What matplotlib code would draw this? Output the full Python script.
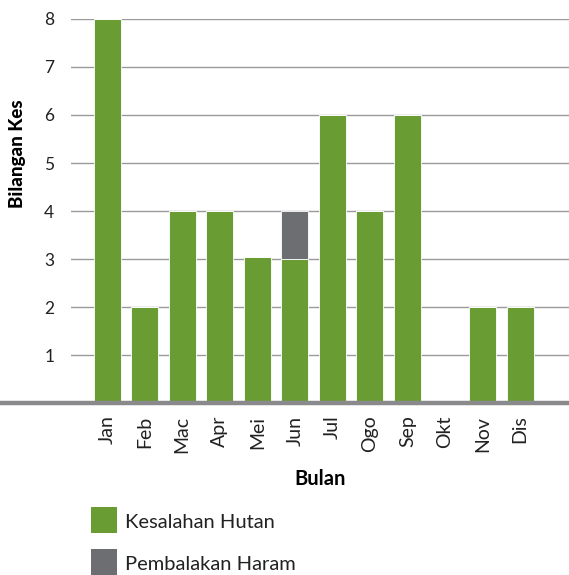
import numpy as np
import matplotlib.pyplot as plt
from matplotlib.patches import Rectangle
from matplotlib.lines import Line2D

# data
months = ["Jan", "Feb", "Mac", "Apr", "Mei", "Jun", "Jul", "Ogo", "Sep", "Okt", "Nov", "Dis"]
kesalahan = [8, 2, 4, 4, 3.05, 3, 6, 4, 6, 0, 2, 2]
pembalakan = [0, 0, 0, 0, 0, 1, 0, 0, 0, 0, 0, 0]

green = "#6a9c34"
grey = "#6d6e72"

plt.rcParams['font.family'] = ['Lato', 'DejaVu Sans']

fig = plt.figure(figsize=(5.69, 5.75), dpi=100)
ax = fig.add_axes([0.1248, 0.299, 0.8752, 0.668])

x = np.arange(len(months))
ax.bar(x, kesalahan, width=0.72, color=green, edgecolor="white", linewidth=0.6, zorder=3)
ax.bar(x, pembalakan, width=0.72, bottom=kesalahan, color=grey, edgecolor="white", linewidth=0.6, zorder=3)

ax.set_xlim(-0.96, 12.3)
ax.set_ylim(0, 8)
ax.set_yticks(range(1, 9))
ax.yaxis.grid(True, color="#9a9a9a", linewidth=1.0, zorder=0)
ax.set_axisbelow(True)
for s in ax.spines.values():
    s.set_visible(False)
ax.tick_params(length=0, colors="#222222")
ax.tick_params(axis="y", pad=12, labelsize=12.5)
ax.tick_params(axis="x", pad=9, labelsize=14)
ax.set_xticks(x)
ax.set_xticklabels(months, rotation=90)

ax.set_ylabel("Bilangan Kes", fontsize=13.5, fontweight="black")
ax.yaxis.set_label_coords(-0.09, 0.65)
ax.set_xlabel("Bulan", fontsize=14.5, fontweight="bold", labelpad=12)

# thick baseline across the figure
fig.add_artist(Line2D([0, 1], [0.299, 0.299], transform=fig.transFigure,
                      color="#8a8a8c", linewidth=3.2, zorder=5))

# legend boxes
fig.add_artist(Rectangle((91/569, 1-533/575), 26/569, 26/575, transform=fig.transFigure,
                         facecolor=green, edgecolor="none"))
fig.add_artist(Rectangle((91/569, 1-575/575), 26/569, 26/575, transform=fig.transFigure,
                         facecolor=grey, edgecolor="none"))
fig.text(125/569, 1-523/575, "Kesalahan Hutan", fontsize=14.5, va="center", color="#222222")
fig.text(125/569, 1-565/575, "Pembalakan Haram", fontsize=14.5, va="center", color="#222222")

fig.savefig("out.png", dpi=100)
